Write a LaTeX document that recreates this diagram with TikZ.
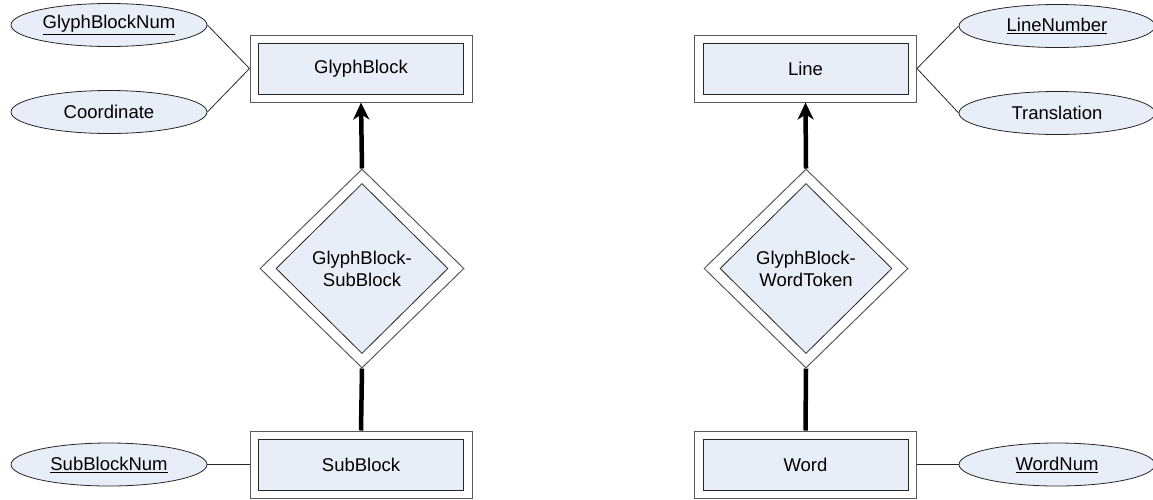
\documentclass[tikz,border=0pt]{standalone}
\usepackage{fontspec}
\setmainfont{Liberation Sans}
\usetikzlibrary{shapes.geometric,arrows.meta}
\definecolor{erfill}{HTML}{E8EEF7}
\definecolor{outergray}{HTML}{5A5A5A}
\tikzset{
  lbl/.style={font=\fontsize{18.5}{22}\selectfont, text=black},
  outerbox/.style={draw=outergray, line width=1pt, rectangle, minimum width=222pt, minimum height=67pt, inner sep=0pt},
  innerbox/.style={draw=black!85, line width=0.8pt, fill=erfill, rectangle, minimum width=205pt, minimum height=51pt, inner sep=0pt, lbl},
  attr/.style={draw=black!85, line width=0.8pt, fill=erfill, ellipse, minimum width=196pt, minimum height=43pt, inner sep=0pt, lbl},
  outerdia/.style={draw=outergray, line width=1pt, diamond, minimum width=204pt, minimum height=199pt, inner sep=0pt},
  innerdia/.style={draw=black!85, line width=0.8pt, fill=erfill, diamond, minimum width=172pt, minimum height=170pt, inner sep=0pt, lbl, align=center},
  thin/.style={draw=black!85, line width=0.8pt},
  heavy/.style={line width=4.5pt, draw=black},
}
\begin{document}
\begin{tikzpicture}[x=1pt,y=-1pt]
\useasboundingbox (0,0) rectangle (1153,499);
% left entity GlyphBlock
\node[outerbox] (gbo) at (361,68.5) {};
\node[innerbox] (gb) at (361,68.5) {GlyphBlock};
\node[attr] (gbn) at (109,25) {\underline{GlyphBlockNum}};
\node[attr] (coord) at (109,112) {Coordinate};
% left relationship
\node[outerdia] (r1o) at (362,268.5) {};
\node[innerdia] (r1) at (362,268.5) {GlyphBlock-\\SubBlock};
% left weak entity SubBlock
\node[outerbox] (sbo) at (361,464.5) {};
\node[innerbox] (sb) at (361,464.5) {SubBlock};
\node[attr] (sbn) at (109,464.5) {\underline{SubBlockNum}};
% right entity Line
\node[outerbox] (lno) at (805.5,68.5) {};
\node[innerbox] (ln) at (805.5,68.5) {Line};
\node[attr] (lnn) at (1057,26) {\underline{LineNumber}};
\node[attr] (tr) at (1057,113) {Translation};
% right relationship
\node[outerdia] (r2o) at (806,268.5) {};
\node[innerdia] (r2) at (806,268.5) {GlyphBlock-\\WordToken};
% right weak entity Word
\node[outerbox] (wdo) at (805.5,464.5) {};
\node[innerbox] (wd) at (805.5,464.5) {Word};
\node[attr] (wdn) at (1057,464.5) {\underline{WordNum}};
% connectors
\draw[thin] (gbn.east) -- (gbo.west);
\draw[thin] (coord.east) -- (gbo.west);
\draw[thin] (sbn.east) -- (sbo.west);
\draw[thin] (lno.east) -- (lnn.west);
\draw[thin] (lno.east) -- (tr.west);
\draw[thin] (wdo.east) -- (wdn.west);
\draw[heavy, -{Stealth[length=17pt,width=16pt,inset=5pt]}] (r1o.north) -- (gbo.south);
\draw[heavy] (r1o.south) -- (sbo.north);
\draw[heavy, -{Stealth[length=17pt,width=16pt,inset=5pt]}] (r2o.north) -- (lno.south);
\draw[heavy] (r2o.south) -- (wdo.north);
\end{tikzpicture}
\end{document}
